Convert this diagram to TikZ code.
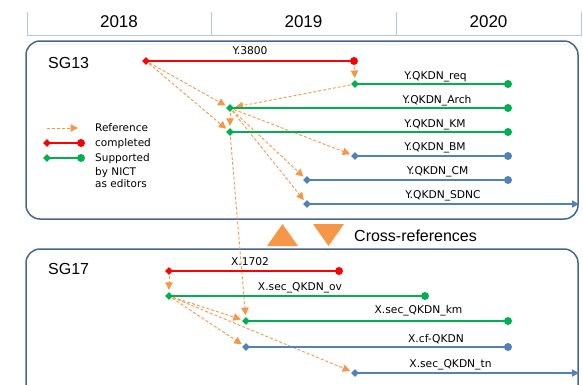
\documentclass[tikz,border=0pt]{standalone}
\usepackage{fontspec}
\setmainfont{Liberation Sans}
\newfontfamily\labelfont{DejaVu Sans}
\usetikzlibrary{arrows.meta,shapes.geometric}
\definecolor{cred}{HTML}{FF0000}
\definecolor{cgreen}{HTML}{00B050}
\definecolor{cblue}{HTML}{4F81BD}
\definecolor{corange}{HTML}{F79646}
\definecolor{cbox}{HTML}{46658F}
\definecolor{chdr}{HTML}{B4C6E0}
\begin{document}
\begin{tikzpicture}[x=1pt,y=-1pt,
  dia/.style={diamond,inner sep=0pt,minimum size=8pt,fill=#1},
  dot/.style={circle,inner sep=0pt,minimum size=8pt,fill=#1},
  bar/.style={line width=2.7pt,draw=#1},
  openbar/.style={line width=2.7pt,draw=#1,-{Triangle[length=7pt,width=7pt]}},
  ref/.style={draw=corange,line width=0.9pt,dash pattern=on 3pt off 2pt,
    -{Triangle[length=7.5pt,width=7.5pt]},shorten >=2pt,shorten <=1pt},
  lbl/.style={font=\labelfont\fontsize{10.7}{12}\selectfont,anchor=base,inner sep=0pt},
  legtxt/.style={font=\labelfont\fontsize{10.5}{12}\selectfont,anchor=base west,inner sep=0pt},
  sgbox/.style={draw=cbox,line width=1.5pt,rounded corners=14pt},
  sgname/.style={font=\fontsize{16}{19}\selectfont,anchor=base west,inner sep=0pt},
  year/.style={font=\fontsize{17}{20}\selectfont,anchor=base,inner sep=0pt},
  hdr/.style={draw=chdr,line width=0.9pt},
]
\useasboundingbox (0,0) rectangle (583,384);
\clip (0,0) rectangle (583,384);

% year header
\draw[hdr] (27,12) -- (27,35) -- (581,35) -- (581,12);
\draw[hdr] (211,12) -- (211,35);
\draw[hdr] (396,12) -- (396,35);
\draw[black!6, line width=0.8pt] (34,44) -- (571,44);
\node[year] (y18) at (119,27.5) {2018};
\node[year] (y19) at (303.5,27.5) {2019};
\node[year] (y20) at (488.5,27.5) {2020};

% study group frames
\draw[sgbox] (26,41) rectangle (578,219);
\draw[sgbox] (26,249) rectangle (578,400);
\node[sgname] (sg13) at (48,68.3) {SG13};
\node[sgname] (sg17) at (48,274.3) {SG17};

% cross-reference sign
\fill[corange] (267,246) -- (282.5,224) -- (298,246) -- cycle;
\fill[corange] (313,224) -- (344,224) -- (328.5,246) -- cycle;
\node[font=\fontsize{16}{19}\selectfont,anchor=base west,inner sep=0pt] (xref) at (354,241) {Cross-references};

% ---- SG13 markers
\node[dia=cred]   (y3800)  at (146,61) {};
\node[dot=cred]   (y3800e) at (354,61) {};
\node[dia=cgreen] (req)    at (355,84) {};
\node[dot=cgreen] (reqe)   at (508,84) {};
\node[dia=cgreen] (arch)   at (230,108) {};
\node[dot=cgreen] (arche)  at (508,108) {};
\node[dia=cgreen] (km)     at (230,132) {};
\node[dot=cgreen] (kme)    at (508,132) {};
\node[dia=cblue]  (bm)     at (355,156) {};
\node[dot=cblue]  (bme)    at (508,156) {};
\node[dia=cblue]  (cm)     at (307,180) {};
\node[dot=cblue]  (cme)    at (508,180) {};
\node[dia=cblue]  (sdnc)   at (307,204) {};
\coordinate       (sdnce)  at (579,204);

% ---- SG17 markers
\node[dia=cred]   (x1702)  at (169,271) {};
\node[dot=cred]   (x1702e) at (339,271) {};
\node[dia=cgreen] (ov)     at (169,296) {};
\node[dot=cgreen] (ove)    at (425,296) {};
\node[dia=cgreen] (xkm)    at (246,321) {};
\node[dot=cgreen] (xkme)   at (508,321) {};
\node[dia=cblue]  (cf)     at (246,347) {};
\node[dot=cblue]  (cfe)    at (508,347) {};
\node[dia=cblue]  (tn)     at (355,373) {};
\coordinate       (tne)    at (579,373);

% ---- references
\draw[ref] (y3800) -- (arch);
\draw[ref] (y3800) -- (km);
\draw[ref] (y3800e) -- (req);
\draw[ref] (req) -- (arch);
\draw[ref] (arch) -- (km);
\draw[ref] (arch) -- (bm);
\draw[ref] (arch) -- (cm);
\draw[ref] (arch) -- (sdnc);
\draw[ref] (km) -- (xkm);
\draw[ref] (x1702) -- (ov);
\draw[ref] (ov) -- (xkm);
\draw[ref] (ov) -- (cf);
\draw[ref] (ov) -- (tn);

% ---- recommendation bars
\draw[bar=cred]   (y3800.center) -- (y3800e.center);
\draw[bar=cgreen] (req.center) -- (reqe.center);
\draw[bar=cgreen] (arch.center) -- (arche.center);
\draw[bar=cgreen] (km.center) -- (kme.center);
\draw[bar=cblue]  (bm.center) -- (bme.center);
\draw[bar=cblue]  (cm.center) -- (cme.center);
\draw[openbar=cblue] (sdnc.center) -- (sdnce);
\draw[bar=cred]   (x1702.center) -- (x1702e.center);
\draw[bar=cgreen] (ov.center) -- (ove.center);
\draw[bar=cgreen] (xkm.center) -- (xkme.center);
\draw[bar=cblue]  (cf.center) -- (cfe.center);
\draw[openbar=cblue] (tn.center) -- (tne);

% ---- bar labels
\node[lbl] (ly3800) at (250,54)    {Y.3800};
\node[lbl] (lreq)   at (435.5,79)  {Y.QKDN\_req};
\node[lbl] (larch)  at (437,103)   {Y.QKDN\_Arch};
\node[lbl] (lkm)    at (435,127)   {Y.QKDN\_KM};
\node[lbl] (lbm)    at (435,150.5) {Y.QKDN\_BM};
\node[lbl] (lcm)    at (437.5,174.5) {Y.QKDN\_CM};
\node[lbl] (lsdnc)  at (443,198.5) {Y.QKDN\_SDNC};
\node[lbl] (lx1702) at (250,265)   {X.1702};
\node[lbl] (lov)    at (300,290)   {X.sec\_QKDN\_ov};
\node[lbl] (lxkm)   at (418.5,313.5) {X.sec\_QKDN\_km};
\node[lbl] (lcf)    at (436,342)   {X.cf-QKDN};
\node[lbl] (ltn)    at (450.5,367) {X.sec\_QKDN\_tn};

% ---- legend
\coordinate (lga) at (47,128);
\coordinate (lgb) at (78,128);
\draw[ref,shorten >=0pt,shorten <=0pt] (lga) -- (lgb);
\node[dia=cred]   (lgr)  at (47,143) {};
\node[dot=cred]   (lgre) at (81,143) {};
\draw[bar=cred] (lgr.center) -- (lgre.center);
\node[dia=cgreen] (lgg)  at (47,158) {};
\node[dot=cgreen] (lgge) at (81,158) {};
\draw[bar=cgreen] (lgg.center) -- (lgge.center);
\node[legtxt] (t1) at (95,131.7) {Reference};
\node[legtxt] (t2) at (95,146.7) {completed};
\node[legtxt] (t3) at (95,161.7) {Supported};
\node[legtxt] (t4) at (95,175)   {by NICT};
\node[legtxt] (t5) at (95,187.7) {as editors};
\end{tikzpicture}
\end{document}
